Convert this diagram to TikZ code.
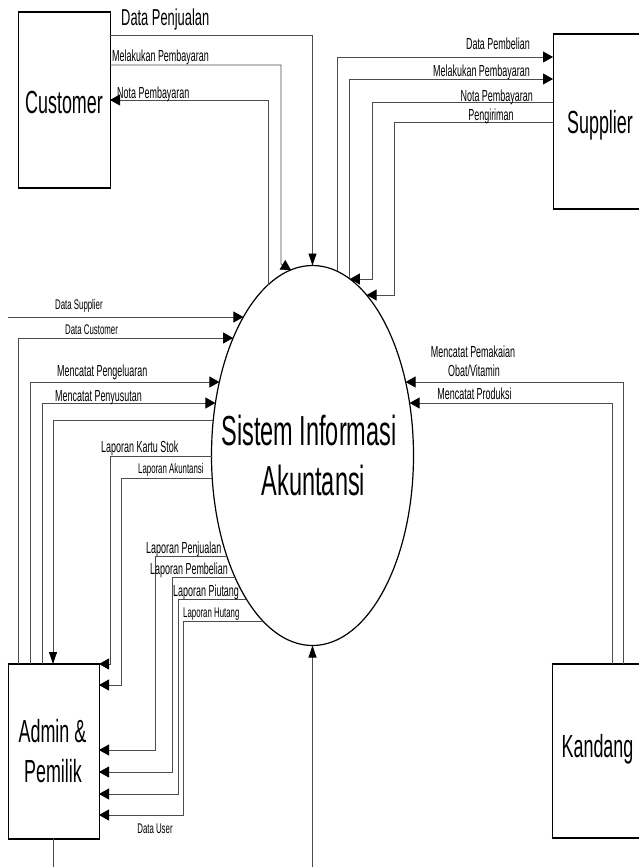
\documentclass[tikz,border=0pt]{standalone}
\usepackage{fontspec}
\setmainfont{Liberation Sans}[FakeStretch=0.56]
\usetikzlibrary{arrows.meta,shapes.geometric}
\tikzset{
 ent/.style={draw=black,line width=1pt,inner sep=0pt,minimum width=92pt,minimum height=174pt},
 edge/.style={draw=black,line width=2pt},
 flow/.style={draw=black!70,line width=0.8pt},
 ha/.style={flow,-{Triangle[length=10pt,width=11pt,color=black]}},
 va/.style={flow,-{Triangle[length=12pt,width=8pt,color=black]}},
 fs/.style={inner sep=0pt,font=\fontsize{16}{19}\selectfont},
 ft/.style={inner sep=0pt,font=\fontsize{14}{17}\selectfont},
 fm/.style={inner sep=0pt,font=\fontsize{23}{27}\selectfont},
 fb/.style={inner sep=0pt,font=\fontsize{32}{38}\selectfont},
 fh/.style={inner sep=0pt,font=\fontsize{42}{50}\selectfont},
}
\begin{document}
\begin{tikzpicture}[x=1pt,y=-1pt]
\useasboundingbox (0,0) rectangle (639,867);
\clip (0,0) rectangle (639,867);

% entities and process
\node[ent] (cust) at (64,100) {};
\node[ent,minimum width=93pt,minimum height=173pt] (supp) at (599.5,121.5) {};
\node[ent,minimum width=93pt,minimum height=173pt] (kand) at (598.5,750.5) {};
\node[ent,minimum width=91pt] (admin) at (53.5,751) {};
\foreach \b in {cust,supp,kand,admin}{
  \draw[edge] (\b.north west) -- (\b.north east);
  \draw[edge] (\b.south west) -- (\b.south east);
}
\node[draw=black,ellipse,line width=1.2pt,inner sep=0pt,minimum width=202pt,minimum height=380pt] (sia) at (312.5,455.5) {};

\node[fb,anchor=base] (tcust) at (64,113) {Customer};
\node[fb,anchor=base] (tsupp) at (600,133.5) {Supplier};
\node[fb,anchor=base] (tkand) at (597.5,757) {Kandang};
\node[fb,anchor=base] (tadm1) at (52.5,742) {Admin \&};
\node[fb,anchor=base] (tadm2) at (53,782) {Pemilik};
\node[fh,anchor=base] (tsia1) at (309,445) {Sistem Informasi};
\node[fh,anchor=base] (tsia2) at (313.5,495) {Akuntansi};

% ---- Customer flows
\coordinate (cDP) at (110,35);
\coordinate (cMP) at (110,65);
\coordinate (cNP) at (110,100);
\coordinate (eDP) at (312.5,265.5);
\coordinate (eMPc) at (291,269.9);
\coordinate (eNPc) at (268,284.9);
\draw[va] (cDP) -| (eDP);
\draw[ha] (cMP) -- (281,65) -- (281,264) -- (eMPc);
\draw[ha] (eNPc) |- (cNP);
\node[fm,anchor=base west] (lDP) at (121,26) {Data Penjualan};
\node[fs,anchor=base west] (lMPc) at (112,61.5) {Melakukan Pembayaran};
\node[fs,anchor=base west] (lNPc) at (117,98.5) {Nota Pembayaran};

% ---- Supplier flows
\coordinate (sDP) at (553,57);
\coordinate (sMP) at (553,79);
\coordinate (sNP) at (553,102);
\coordinate (sPg) at (553,122);
\coordinate (eDPb) at (337,271.2);
\coordinate (eMPs) at (349,278.3);
\coordinate (eNPs) at (349.9,279);
\coordinate (ePg) at (366.6,295);
\draw[ha] (eDPb) |- (sDP);
\draw[ha] (eMPs) |- (sMP);
\draw[ha] (sNP) -- (372,102) -- (372,279) -- (eNPs);
\draw[ha] (sPg) -- (394,122) -- (394,295) -- (ePg);
\node[fs,anchor=base east] (lDPb) at (530,50) {Data Pembelian};
\node[fs,anchor=base east] (lMPs) at (530,76) {Melakukan Pembayaran};
\node[fs,anchor=base east] (lNPs) at (533,101) {Nota Pembayaran};
\node[fs,anchor=base] (lPg) at (491,120.5) {Pengiriman};

% ---- Kandang flows
\coordinate (kPm) at (623,664);
\coordinate (kPr) at (612,664);
\coordinate (ePm) at (405.6,382);
\coordinate (ePr) at (409.6,403);
\draw[ha] (kPm) |- (ePm);
\draw[ha] (kPr) |- (ePr);
\node[fs,anchor=base] (lPm1) at (473,357) {Mencatat Pemakaian};
\node[fs,anchor=base] (lPm2) at (474,376) {Obat/Vitamin};
\node[fs,anchor=base] (lPr) at (474.5,399) {Mencatat Produksi};

% ---- Admin flows to process
\coordinate (pDS) at (8,317);
\coordinate (eDS) at (243.4,317);
\coordinate (aDC) at (18,664);
\coordinate (eDC) at (233.1,338);
\coordinate (aPg) at (30,664);
\coordinate (ePgl) at (219.4,382);
\coordinate (aPs) at (42,664);
\coordinate (ePs) at (215.4,403);
\coordinate (aIn) at (53,664);
\coordinate (eIn) at (213.3,420);
\draw[ha] (pDS) -- (eDS);
\draw[ha] (aDC) |- (eDC);
\draw[ha] (aPg) |- (ePgl);
\draw[ha] (aPs) |- (ePs);
\draw[va] (eIn) -| (aIn);
\node[ft,anchor=base west] (lDS) at (55,309) {Data Supplier};
\node[ft,anchor=base west] (lDC) at (65,334) {Data Customer};
\node[fs,anchor=base west] (lPgl) at (57,376.5) {Mencatat Pengeluaran};
\node[fs,anchor=base west] (lPs) at (55,401) {Mencatat Penyusutan};

% ---- Reports to Admin
\coordinate (eKS) at (211.5,456);
\coordinate (aKS) at (99,664);
\coordinate (eAk) at (212.2,478);
\coordinate (aAk) at (99,685);
\coordinate (eLPj) at (226.8,556);
\coordinate (aPj) at (99,750);
\coordinate (eLPb) at (234.9,577);
\coordinate (aPb) at (99,772);
\coordinate (eLPi) at (246.3,599);
\coordinate (aPi) at (99,794);
\coordinate (eLH) at (262.9,621);
\coordinate (aH) at (99,815);
\draw[ha] (eKS) -- (110,456) -- (110,664) -- (aKS);
\draw[ha] (eAk) -- (121,478) -- (121,685) -- (aAk);
\draw[ha] (eLPj) -- (155,556) -- (155,750) -- (aPj);
\draw[ha] (eLPb) -- (172,577) -- (172,772) -- (aPb);
\draw[ha] (eLPi) -- (178,599) -- (178,794) -- (aPi);
\draw[ha] (eLH) -- (183,621) -- (183,815) -- (aH);
\node[fs,anchor=base west] (lKS) at (101,452) {Laporan Kartu Stok};
\node[ft,anchor=base west] (lAk) at (138,473) {Laporan Akuntansi};
\node[fs,anchor=base west] (lLPj) at (146,553) {Laporan Penjualan};
\node[fs,anchor=base west] (lLPb) at (150,574) {Laporan Pembelian};
\node[fs,anchor=base west] (lLPi) at (173,596) {Laporan Piutang};
\node[ft,anchor=base west] (lLH) at (183,617) {Laporan Hutang};

% ---- Data User
\coordinate (aDU) at (53,838);
\coordinate (bDU1) at (53,867);
\coordinate (bDU2) at (312.5,867);
\coordinate (eDU) at (312.5,645.5);
\draw[flow] (aDU) -- (bDU1);
\draw[va] (bDU2) -- (eDU);
\node[ft,anchor=base] (lDU) at (155,833) {Data User};
\end{tikzpicture}
\end{document}
